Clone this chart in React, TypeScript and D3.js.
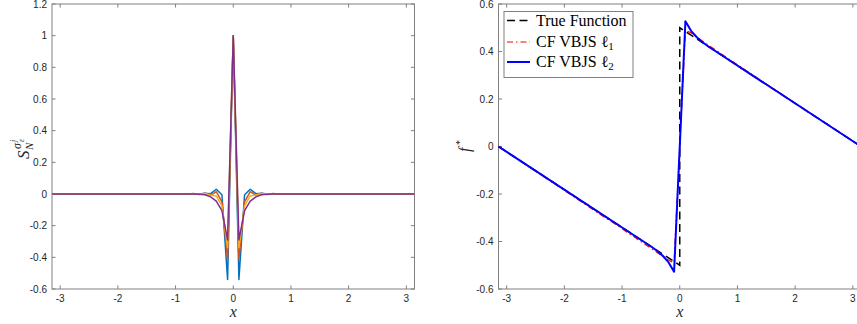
import React, { useEffect, useRef } from "react";
import * as d3 from "d3";

const W = 857;
const H = 324;

// left panel: kernel values at grid offsets k (mirrored for -k)
const gridStep = (2 * Math.PI) / 64;
const kernelOffsets = [0, 1, 2, 3, 4, 5, 6, 7, 8];
const kernelBlue = [1, -0.54, -0.005, 0.03, 0.002, 0.004, 0, 0, 0];
const kernelOrange = [1, -0.41, -0.05, 0.015, -0.008, 0.005, -0.004, 0.003, 0];
const kernelYellow = [1, -0.34, -0.075, -0.012, -0.006, 0.003, 0, 0, 0];
const kernelPurple = [1, -0.29, -0.105, -0.045, -0.018, -0.005, -0.002, 0, 0];
const kernelColors = ["#0072BD", "#D95319", "#EDB120", "#7E2F8E"];
const leftYTicks = [-0.6, -0.4, -0.2, 0, 0.2, 0.4, 0.6, 0.8, 1, 1.2];
const xTicks = [-3, -2, -1, 0, 1, 2, 3];

// right panel
const trueX = [-Math.PI, 0, 0, Math.PI];
const trueY = [0, -0.5, 0.5, 0];
const l1X = [-Math.PI, -2, -1.5, -1, -0.7, -0.5, -0.36, -0.196, -0.098, 0, 0.098, 0.196, 0.3, 0.5, 1, 1.5, 2, Math.PI];
const l1Y = [0, -0.185, -0.266, -0.346, -0.396, -0.428, -0.452, -0.478, -0.49, 0, 0.488, 0.479, 0.46, 0.426, 0.344, 0.263, 0.183, 0];
const l2X = [-Math.PI, -0.49, -0.39, -0.295, -0.196, -0.098, 0, 0.098, 0.196, 0.295, 0.39, 0.49, Math.PI];
const l2Y = [0, -0.422, -0.44, -0.46, -0.487, -0.527, 0, 0.527, 0.487, 0.46, 0.44, 0.422, 0];
const rightYTicks = [-0.6, -0.4, -0.2, 0, 0.2, 0.4, 0.6];
const legendLabels = ["True Function", "CF VBJS \u2113", "CF VBJS \u2113"];
const legendSubs = ["", "1", "2"];

const axisColor = "#808080";
const textColor = "#262626";
const sansFont = "'Liberation Sans', Helvetica, Arial, sans-serif";
const serifFont = "'Liberation Serif', 'Times New Roman', serif";

type Pt = [number, number];

const App: React.FC = () => {
  const svgRef = useRef<SVGSVGElement | null>(null);

  useEffect(() => {
    if (!svgRef.current) return;
    const svg = d3.select(svgRef.current);
    svg.selectAll("*").remove();

    const top = 4;
    const bottom = 289;
    const x1 = d3.scaleLinear().domain([-Math.PI, Math.PI]).range([52, 414.5]);
    const y1 = d3.scaleLinear().domain([-0.6, 1.2]).range([bottom, top]);
    const x2 = d3.scaleLinear().domain([-Math.PI, Math.PI]).range([498.5, 861]);
    const y2 = d3.scaleLinear().domain([-0.6, 0.6]).range([bottom, top]);

    const drawFrame = (x: d3.ScaleLinear<number, number>, y: d3.ScaleLinear<number, number>, yTicks: number[]) => {
      const g = svg.append("g");
      const [xl, xr] = x.range();
      const [yb, yt] = y.range();
      g.append("rect")
        .attr("x", xl).attr("y", yt)
        .attr("width", xr - xl).attr("height", yb - yt)
        .attr("fill", "#fff").attr("stroke", axisColor).attr("stroke-width", 1);
      const tl = 3.6;
      xTicks.forEach((t) => {
        const px = x(t);
        g.append("line").attr("x1", px).attr("x2", px).attr("y1", yb).attr("y2", yb - tl).attr("stroke", axisColor);
        g.append("line").attr("x1", px).attr("x2", px).attr("y1", yt).attr("y2", yt + tl).attr("stroke", axisColor);
        g.append("text").attr("x", px).attr("y", yb + 13).attr("text-anchor", "middle")
          .attr("font-family", sansFont).attr("font-size", 10).attr("fill", textColor).text(String(t));
      });
      yTicks.forEach((t) => {
        const py = y(t);
        g.append("line").attr("x1", xl).attr("x2", xl + tl).attr("y1", py).attr("y2", py).attr("stroke", axisColor);
        g.append("line").attr("x1", xr).attr("x2", xr - tl).attr("y1", py).attr("y2", py).attr("stroke", axisColor);
        g.append("text").attr("x", xl - 5).attr("y", py + 3.5).attr("text-anchor", "end")
          .attr("font-family", sansFont).attr("font-size", 10).attr("fill", textColor).text(String(t));
      });
      g.append("text").attr("x", (xl + Math.min(xr, 862)) / 2).attr("y", yb + 28).attr("text-anchor", "middle")
        .attr("font-family", serifFont).attr("font-style", "italic").attr("font-size", 16).attr("fill", textColor).text("x");
    };

    // ---- left panel
    drawFrame(x1, y1, leftYTicks);
    const lineL = d3.line<Pt>().x((d) => x1(d[0])).y((d) => y1(d[1]));
    const kernelPoints = (vals: number[]): Pt[] => [
      [-Math.PI, 0],
      ...kernelOffsets.slice().reverse().map((k) => [-k * gridStep, vals[k]] as Pt),
      ...kernelOffsets.slice(1).map((k) => [k * gridStep, vals[k]] as Pt),
      [Math.PI, 0],
    ];
    [kernelBlue, kernelOrange, kernelYellow, kernelPurple].forEach((vals, i) => {
      svg.append("path").datum(kernelPoints(vals)).attr("d", lineL)
        .attr("fill", "none").attr("stroke", kernelColors[i]).attr("stroke-width", 1.5)
        .attr("stroke-linejoin", "round");
    });

    const yl = svg.append("g").attr("transform", "translate(29,146) rotate(-90)")
      .attr("font-family", serifFont).attr("font-style", "italic").attr("fill", textColor);
    yl.append("text").attr("x", -13).attr("y", 0).attr("font-size", 17).text("S");
    yl.append("text").attr("x", -4).attr("y", 4).attr("font-size", 11).text("N");
    yl.append("text").attr("x", -3).attr("y", -8).attr("font-size", 12).text("\u03c3");
    yl.append("text").attr("x", 4).attr("y", -5).attr("font-size", 8).text("\u03b5");
    yl.append("text").attr("x", 4).attr("y", -13).attr("font-size", 8).text("j");

    // ---- right panel
    drawFrame(x2, y2, rightYTicks);
    const lineR = d3.line<Pt>().x((d) => x2(d[0])).y((d) => y2(d[1]));
    const zip = (xs: number[], ys: number[]): Pt[] => xs.map((v, i) => [v, ys[i]] as Pt);
    svg.append("path").datum(zip(trueX, trueY)).attr("d", lineR)
      .attr("fill", "none").attr("stroke", "#000").attr("stroke-width", 1.5).attr("stroke-dasharray", "8,4.5");
    svg.append("path").datum(zip(l1X, l1Y)).attr("d", lineR)
      .attr("fill", "none").attr("stroke", "#ff0000").attr("stroke-width", 1.2).attr("stroke-dasharray", "6,3,1.5,3");
    svg.append("path").datum(zip(l2X, l2Y)).attr("d", lineR)
      .attr("fill", "none").attr("stroke", "#0000ff").attr("stroke-width", 2).attr("stroke-linejoin", "round");

    const fl = svg.append("g").attr("transform", "translate(470,146) rotate(-90)")
      .attr("font-family", serifFont).attr("font-style", "italic").attr("fill", textColor);
    fl.append("text").attr("x", -6).attr("y", 0).attr("font-size", 16).text("f");
    fl.append("text").attr("x", 1).attr("y", -7).attr("font-size", 10).attr("font-style", "normal").text("*");

    // legend
    const lg = svg.append("g");
    lg.append("rect").attr("x", 504).attr("y", 11.5).attr("width", 129).attr("height", 66)
      .attr("fill", "#fff").attr("stroke", axisColor);
    const rowsY = [20.5, 42, 62];
    const styles = [
      { c: "#000", w: 1.5, d: "8,4.5" },
      { c: "#ff0000", w: 1.2, d: "6,3,1.5,3" },
      { c: "#0000ff", w: 2, d: null },
    ];
    legendLabels.forEach((lab, i) => {
      const ry = rowsY[i];
      const ln = lg.append("line").attr("x1", 507).attr("x2", 530).attr("y1", ry).attr("y2", ry)
        .attr("stroke", styles[i].c).attr("stroke-width", styles[i].w);
      if (styles[i].d) ln.attr("stroke-dasharray", styles[i].d);
      const t = lg.append("text").attr("x", 536).attr("y", ry + 5).attr("font-family", serifFont)
        .attr("font-size", 16).attr("fill", "#000");
      t.append("tspan").text(lab);
      if (legendSubs[i]) {
        t.append("tspan").attr("dy", 3).attr("font-size", 11).text(legendSubs[i]);
      }
    });
  }, []);

  return (
    <svg
      ref={svgRef}
      width={W}
      height={H}
      style={{ position: "absolute", left: 0, top: 0, background: "#fff" }}
    />
  );
};

export default App;
